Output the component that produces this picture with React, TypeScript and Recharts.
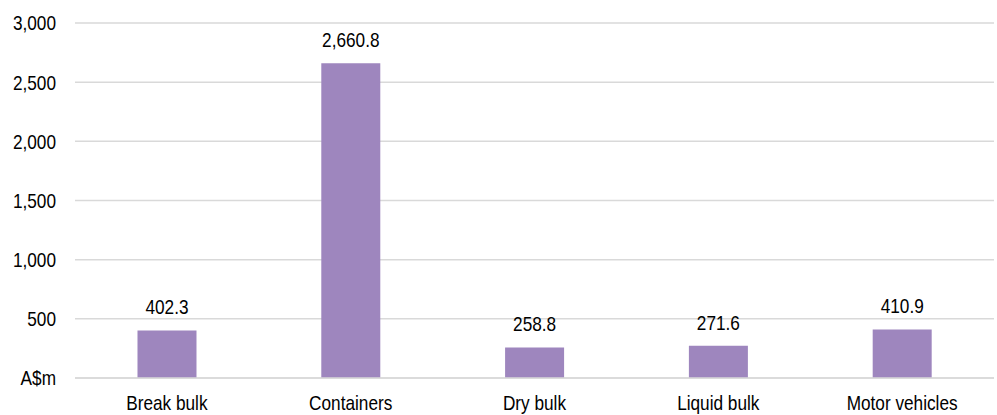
import React from "react";
import { BarChart, Bar, XAxis, YAxis, CartesianGrid, LabelList } from "recharts";

const categories = ["Break bulk", "Containers", "Dry bulk", "Liquid bulk", "Motor vehicles"];
const values = [402.3, 2660.8, 258.8, 271.6, 410.9];
const yTicks = [0, 500, 1000, 1500, 2000, 2500, 3000];

const data = categories.map((c, i) => ({ name: c, value: values[i] }));

const FONT = "'Liberation Sans', Arial, sans-serif";
const FS = 21;
const SX = 0.82;

const fmtY = (v: number) => (v === 0 ? "A$m" : v.toLocaleString("en-US"));
const fmtLabel = (v: any) =>
  Number(v).toLocaleString("en-US", { minimumFractionDigits: 1, maximumFractionDigits: 1 });

const NarrowText = ({ x, y, anchor, dy, children }: any) => (
  <g transform={`translate(${x},${y}) scale(${SX},1)`}>
    <text x={0} y={0} dy={dy} textAnchor={anchor} fill="#000" fontSize={FS} fontFamily={FONT}>
      {children}
    </text>
  </g>
);

const YTick = (props: any) => {
  const { x, y, payload } = props;
  return (
    <NarrowText x={x} y={y} anchor="end" dy="0.355em">
      {fmtY(payload.value)}
    </NarrowText>
  );
};

const XTick = (props: any) => {
  const { x, y, payload } = props;
  return (
    <NarrowText x={x} y={y} anchor="middle" dy="0.71em">
      {payload.value}
    </NarrowText>
  );
};

const BarLabel = (props: any) => {
  const { x, y, width, value } = props;
  return (
    <NarrowText x={Number(x) + Number(width) / 2} y={Number(y) - 16} anchor="middle" dy="0">
      {fmtLabel(value)}
    </NarrowText>
  );
};

export default function App() {
  return (
    <div style={{ position: "absolute", left: 0, top: 0, width: 997, height: 415, background: "#fff" }}>
      <BarChart
        width={997}
        height={415}
        data={data}
        margin={{ top: 23, right: 3, bottom: 0, left: 0 }}
        barCategoryGap="34%"
      >
        <CartesianGrid vertical={false} stroke="#d9d9d9" strokeWidth={1.5} />
        <XAxis
          dataKey="name"
          axisLine={{ stroke: "#d9d9d9", strokeWidth: 1.5 }}
          tickLine={false}
          tickSize={0}
          tickMargin={17}
          height={37}
          interval={0}
          tick={<XTick />}
        />
        <YAxis
          domain={[0, 3000]}
          ticks={yTicks}
          axisLine={false}
          tickLine={false}
          tickSize={0}
          tickMargin={19}
          width={75}
          interval={0}
          tick={<YTick />}
        />
        <Bar dataKey="value" fill="#9e86be" isAnimationActive={false}>
          <LabelList dataKey="value" content={<BarLabel />} />
        </Bar>
      </BarChart>
    </div>
  );
}
